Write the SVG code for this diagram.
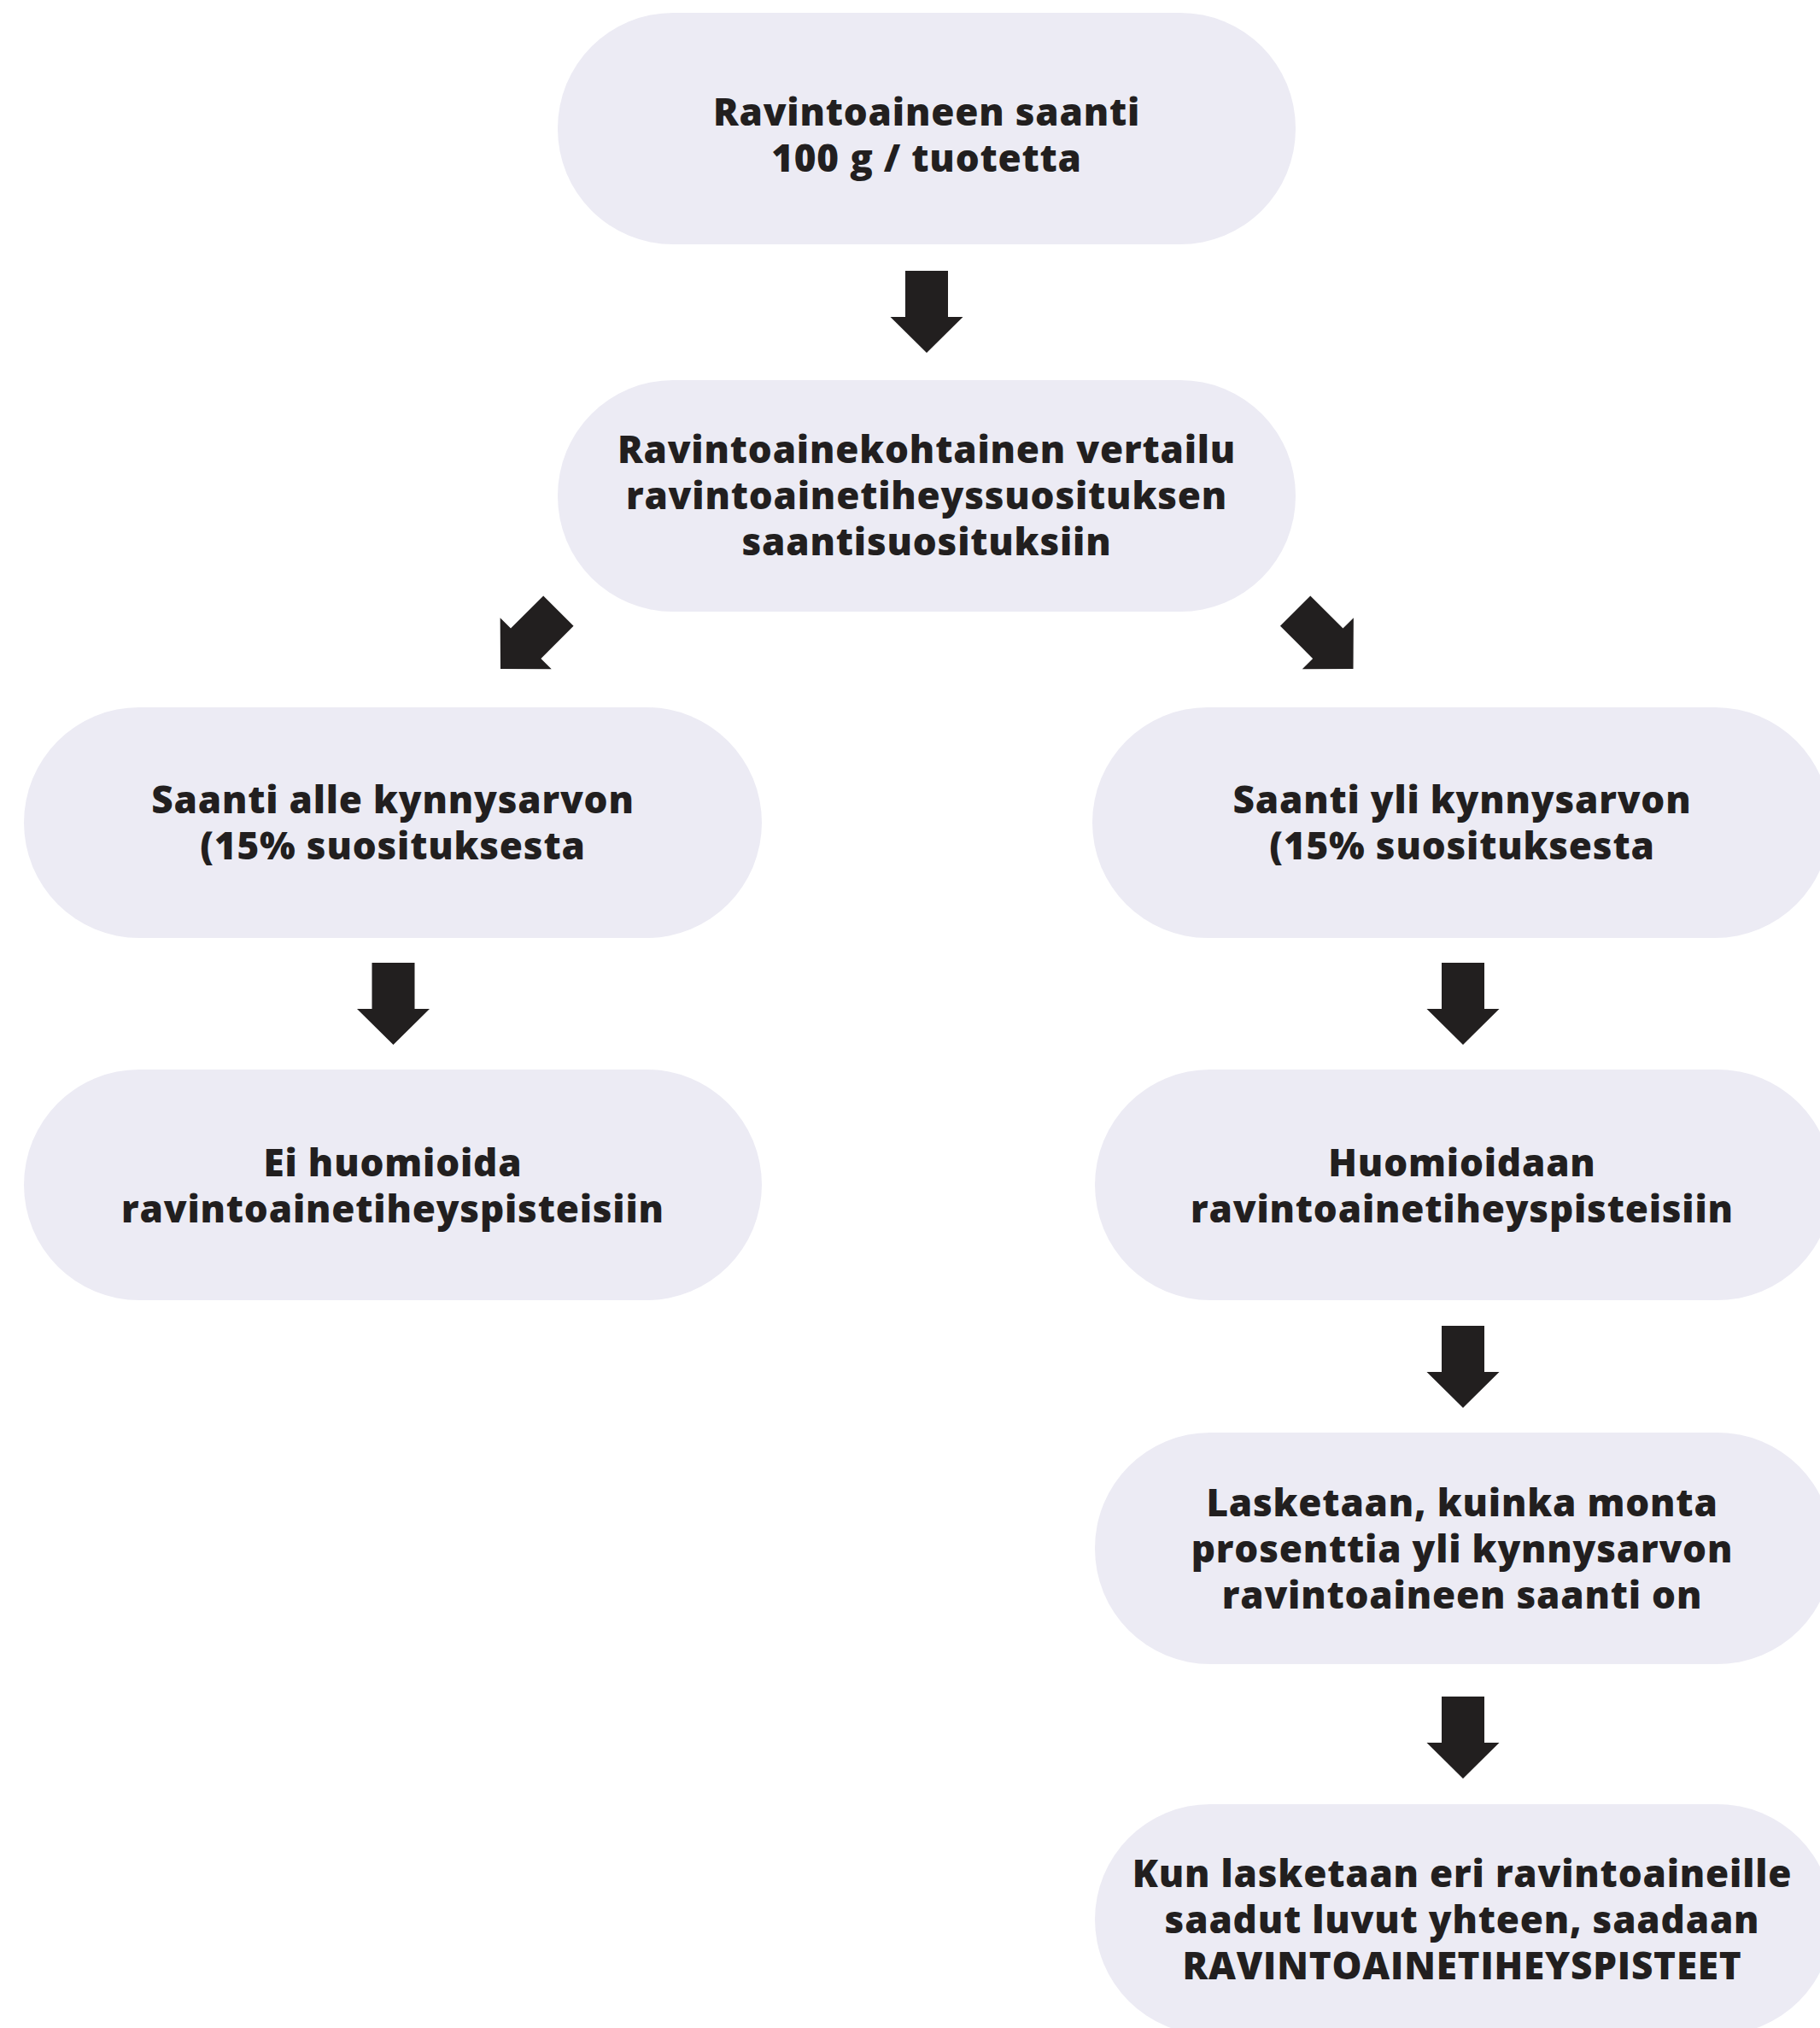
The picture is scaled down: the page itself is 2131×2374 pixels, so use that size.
<svg xmlns="http://www.w3.org/2000/svg" width="2131" height="2374" viewBox="0 0 2131 2374">
<defs>
<style>
.node rect{fill:#ecebf4;}
.node text{font-family:"Open Sans","Noto Sans","Liberation Sans",sans-serif;font-weight:800;font-size:44px;letter-spacing:0.8px;fill:#221f1f;text-anchor:middle;}
.arrow{fill:#221f1f;}
</style>
<path id="arr" d="M-25,-96 L25,-96 L25,-42 L42.5,-42 L0,0 L-42.5,-42 L-25,-42 Z"/>
</defs>
<rect width="2131" height="2374" fill="#ffffff"/>
<g id="n1" class="node">
<rect x="653" y="15" width="864" height="271" rx="135" ry="135"/>
<text x="1085" y="147">Ravintoaineen saanti</text>
<text x="1085" y="201">100 g / tuotetta</text>
</g>
<g id="n2" class="node">
<rect x="653" y="445" width="864" height="271" rx="135" ry="135"/>
<text x="1085" y="542">Ravintoainekohtainen vertailu</text>
<text x="1085" y="596">ravintoainetiheyssuosituksen</text>
<text x="1085" y="650">saantisuosituksiin</text>
</g>
<g id="n3" class="node">
<rect x="28" y="828" width="864" height="270" rx="135" ry="135"/>
<text x="460" y="952">Saanti alle kynnysarvon</text>
<text x="460" y="1006">(15% suosituksesta</text>
</g>
<g id="n4" class="node">
<rect x="1279" y="828" width="864" height="270" rx="135" ry="135"/>
<text x="1712" y="952">Saanti yli kynnysarvon</text>
<text x="1712" y="1006">(15% suosituksesta</text>
</g>
<g id="n5" class="node">
<rect x="28" y="1252" width="864" height="270" rx="135" ry="135"/>
<text x="460" y="1377">Ei huomioida</text>
<text x="460" y="1431">ravintoainetiheyspisteisiin</text>
</g>
<g id="n6" class="node">
<rect x="1282" y="1252" width="864" height="270" rx="135" ry="135"/>
<text x="1712" y="1377">Huomioidaan</text>
<text x="1712" y="1431">ravintoainetiheyspisteisiin</text>
</g>
<g id="n7" class="node">
<rect x="1282" y="1677" width="864" height="271" rx="135" ry="135"/>
<text x="1712" y="1775">Lasketaan, kuinka monta</text>
<text x="1712" y="1829">prosenttia yli kynnysarvon</text>
<text x="1712" y="1883">ravintoaineen saanti on</text>
</g>
<g id="n8" class="node">
<rect x="1282" y="2112" width="864" height="270" rx="135" ry="135"/>
<text x="1712" y="2209">Kun lasketaan eri ravintoaineille</text>
<text x="1712" y="2263">saadut luvut yhteen, saadaan</text>
<text x="1712" y="2317">RAVINTOAINETIHEYSPISTEET</text>
</g>
<g id="connectors" class="arrow">
<use href="#arr" transform="translate(1085,413)"/>
<use href="#arr" transform="translate(586,783) rotate(45)"/>
<use href="#arr" transform="translate(1584.5,783) rotate(-45)"/>
<use href="#arr" transform="translate(460.5,1223)"/>
<use href="#arr" transform="translate(1713,1223)"/>
<use href="#arr" transform="translate(1713,1648)"/>
<use href="#arr" transform="translate(1713,2082)"/>
</g>
</svg>
